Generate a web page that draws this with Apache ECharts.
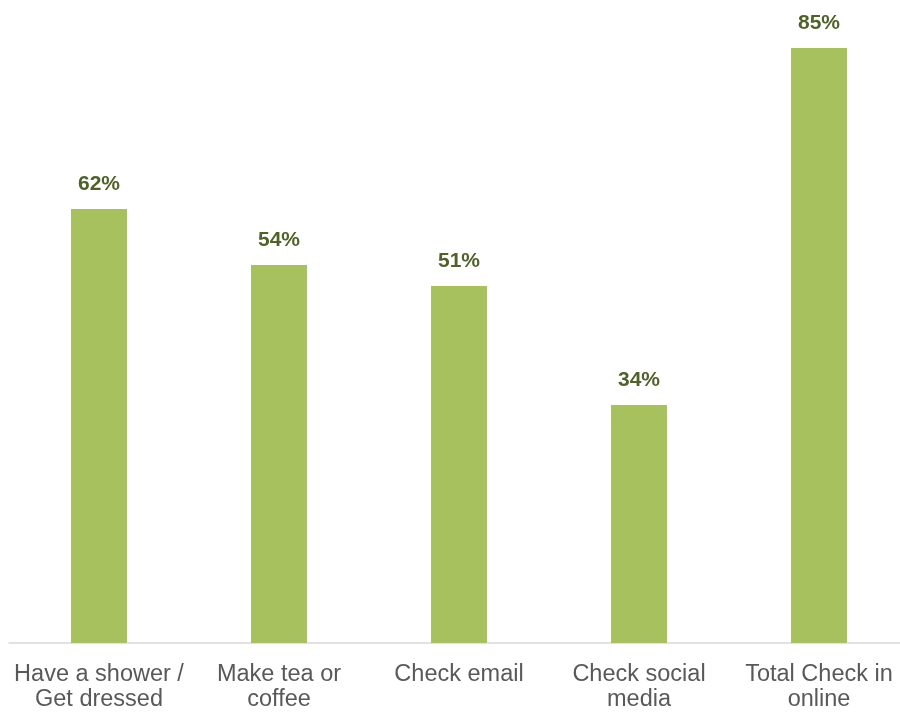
<!DOCTYPE html>
<html>
<head>
<meta charset="utf-8">
<script src="https://cdn.jsdelivr.net/npm/echarts@6/dist/echarts.min.js"></script>
<style>
  html, body { margin: 0; padding: 0; background: #ffffff; overflow: hidden; }
  #chart { width: 918px; height: 712px; }
</style>
</head>
<body>
<div id="chart"></div>
<script>
// Morning activities before starting the day (share of respondents, %)
const categories = [
  'Have a shower /\nGet dressed',
  'Make tea or\ncoffee',
  'Check email',
  'Check social\nmedia',
  'Total Check in\nonline'
];
const shares = [62, 54, 51, 34, 85];

const chart = echarts.init(document.getElementById('chart'));

chart.setOption({
  animation: false,
  backgroundColor: '#ffffff',
  grid: {
    left: 9,
    right: 9,
    top: 48,
    bottom: 69,
    containLabel: false
  },
  xAxis: {
    type: 'category',
    data: categories,
    axisLine: { show: true, lineStyle: { color: '#d9d9d9', width: 1.5 } },
    axisTick: { show: false },
    axisLabel: {
      color: '#595959',
      fontFamily: 'Liberation Sans, Arial, sans-serif',
      fontSize: 23.5,
      lineHeight: 25,
      margin: 19,
      interval: 0
    }
  },
  yAxis: {
    type: 'value',
    min: 0,
    max: 85,
    show: false,
    splitLine: { show: false }
  },
  series: [{
    type: 'bar',
    data: shares,
    barWidth: 56,
    itemStyle: { color: '#a8c15f' },
    label: {
      show: true,
      position: 'top',
      distance: 14,
      formatter: '{c}%',
      color: '#4f6228',
      fontFamily: 'Liberation Sans, Arial, sans-serif',
      fontWeight: 'bold',
      fontSize: 21
    }
  }]
});
</script>
</body>
</html>
